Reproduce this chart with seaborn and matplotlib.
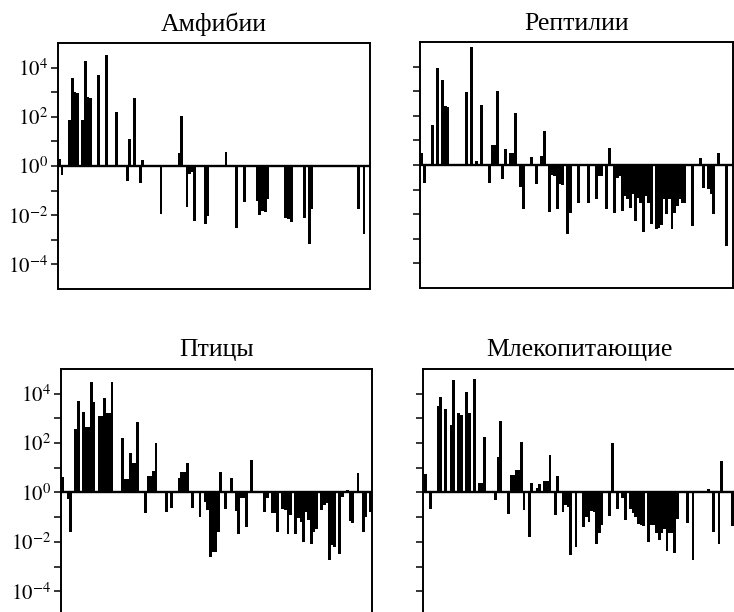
import matplotlib
matplotlib.use("Agg")
import matplotlib.pyplot as plt
from matplotlib.ticker import FixedLocator, FuncFormatter
import pandas as pd
import seaborn as sns

# число позиций по оси X в каждой панели
N_SLOTS = 120

# показатель степени (log10 отношения) для каждой позиции
amph_slot = [0, 1, 4, 5, 6, 7, 9, 10, 11, 12, 15, 18, 22, 26, 27, 29, 31, 32, 39,
             46, 47, 49, 50, 51, 52, 56, 57, 64, 68, 71, 76, 77, 78, 79, 80,
             87, 88, 89, 94, 96, 97, 115, 117]
amph_exp = [0.3, -0.32, 1.86, 3.58, 3.0, 2.96, 1.86, 4.27, 2.8, 2.76, 3.7, 4.52, 2.18,
            -0.56, 1.1, 2.75, -0.64, 0.26, -1.92, 0.52, 2.04, -1.62, -0.3, -0.2, -2.2,
            -2.32, -1.98, 0.55, -2.5, -1.44, -1.37, -1.97, -1.77, -1.84, -1.3,
            -2.08, -2.1, -2.25, -2.08, -3.14, -1.72, -1.69, -2.72]

rept_slot = [0, 1, 4, 6, 8, 9, 10, 17, 19, 21, 23, 26, 27, 28, 29, 31, 32, 34, 35, 36,
             38, 39, 42, 44, 46, 47, 49, 50, 51, 52, 53, 54, 56, 57, 60, 64, 67, 68, 69,
             71, 72, 74, 75, 76, 77, 78, 79, 80, 81, 82, 83, 84, 85, 86, 87, 88,
             90, 91, 92, 93, 94, 95, 96, 97, 98, 99, 100, 101,
             104, 107, 108, 110, 111, 112, 114, 117]
rept_exp = [0.47, -0.68, 1.62, 3.95, 3.45, 2.4, 2.36, 2.95, 4.8, 0.17, 2.43,
            -0.68, 0.81, 0.8, 3.0, -0.51, 0.65, 0.47, 0.47, 2.1, -0.85, -1.73,
            0.34, -0.72, 0.38, 1.38, -1.86, -0.36, -0.4, -1.76, -0.74, -0.78,
            -2.77, -1.89, -1.49, -1.49, -1.35, -0.4, -0.4, -1.73, 0.68,
            -1.92, -0.47, -0.4, -1.82, -1.22, -1.35, -1.69, -1.15, -2.23, -1.28,
            -1.49, -2.7, -1.2, -1.5, -2.36,
            -2.57, -2.5, -2.4, -1.35, -1.96, -1.35, -2.57, -1.89, -1.62, -1.35, -1.51, -1.49,
            -2.43, 0.27, -0.88, -0.95, -1.15, -1.96, 0.47, -3.24]

bird_slot = [0, 2, 3, 5, 6, 8, 9, 10, 11, 12, 14, 15, 16, 17, 18, 19,
             23, 24, 25, 26, 27, 28, 29, 32, 33, 34, 35, 36, 40, 42, 45, 46, 47, 48,
             50, 53, 55, 56, 57, 58, 59, 60, 61, 63, 65, 67, 68, 69, 70, 71, 73,
             78, 79, 81, 82, 83, 85, 86, 87, 88, 90, 91, 92, 93, 94, 95, 96, 97, 98,
             100, 101, 102, 103, 104, 105, 107, 108, 110, 111, 112, 114, 116, 117, 119]
bird_exp = [0.61, -0.22, -1.55, 2.57, 3.72, 3.24, 2.66, 2.64, 4.46, 3.65,
            3.1, 3.1, 3.82, 3.2, 3.2, 4.46,
            2.2, 0.54, 0.54, 1.58, 1.18, 1.18, 2.86, -0.81, 0.68, 0.68, 0.88, 2.0,
            -0.74, -0.58, 0.58, 0.81, 0.81, 1.18,
            -0.58, -0.95, -0.34, -0.68, -2.57, -2.36, -2.38, -1.55, 0.81,
            -0.61, 0.58, -0.7, -1.66, -0.2, -0.2, -1.35, 1.31,
            -0.74, -0.2, -0.81, -0.8, -1.55, -0.61, -0.68, -1.66, -0.88,
            -1.66, -1.01, -1.15, -1.96, -0.74, -1.08, -2.03, -1.55, -1.42,
            -0.68, -0.47, -0.4, -2.7, -2.1, -2.16, -2.47, -0.14, 0.11, -1.12, -1.18, 0.77,
            -1.55, -0.95, -0.74]

mamm_slot = [0, 2, 5, 6, 8, 10, 11, 13, 14, 16, 17, 19, 21, 22, 23, 27, 28, 29,
             32, 33, 34, 35, 36, 37, 38, 40, 41, 43, 44, 46, 47, 48,
             50, 51, 53, 54, 55, 56, 58, 61, 62, 63, 64, 65, 66, 67, 68,
             71, 72, 74, 76, 77, 79, 80, 81, 82, 83, 84,
             86, 87, 88, 89, 90, 91, 92, 93, 94, 95, 96, 97,
             101, 103, 109, 111, 113, 114, 118]
mamm_exp = [0.74, -0.64, 3.51, 3.88, 3.38, 2.74, 4.55, 3.2, 3.14, 4.05, 3.2, 4.6,
            0.4, 0.4, 2.23, -0.27, 1.42, 2.88,
            -0.85, 0.7, 0.7, 0.9, 0.9, 2.03, -0.68, -1.76, 0.4, 0.2, 0.36, 0.47, 0.47, 1.53,
            -0.88, 0.68, -0.74, -0.47, -0.54, -2.5, -2.16,
            -1.35, -0.95, -1.15, -0.72, -0.74, -2.03, -1.62, -1.28,
            -0.9, 1.99, -0.64, -0.2, -1.08, -0.61, -0.81, -0.95, -1.22, -1.28, -1.31,
            -1.96, -1.28, -1.28, -1.62, -1.89, -1.62, -1.42, -2.34, -1.62, -1.58, -2.43, -1.04,
            -1.18, -2.7, 0.16, -1.55, -2.03, 1.28, -1.31]

titles = ["Амфибии", "Рептилии", "Птицы", "Млекопитающие"]

sns.set_style("ticks")
plt.rcParams["font.family"] = ["Liberation Serif", "DejaVu Serif"]
plt.rcParams["mathtext.fontset"] = "stix"
plt.rcParams["text.color"] = "black"
plt.rcParams["ytick.color"] = "black"
plt.rcParams["axes.edgecolor"] = "black"

# расположение панелей на рисунке (доли рисунка)
rects = [
    [0.0785, 0.5278, 0.4256, 0.4019],
    [0.5722, 0.5294, 0.4260, 0.4019],
    [0.0831, -0.0065, 0.4233, 0.4036],
    [0.5767, -0.0065, 0.4253, 0.4036],
]
data = [(amph_slot, amph_exp), (rept_slot, rept_exp),
        (bird_slot, bird_exp), (mamm_slot, mamm_exp)]

fig = plt.figure(figsize=(7.34, 6.12), dpi=100)

for i, (title, rect, (slots, exps)) in enumerate(zip(titles, rects, data)):
    ax = fig.add_axes(rect)
    # все позиции, пустые = 10^0
    full = pd.Series(exps, index=slots).reindex(range(N_SLOTS), fill_value=0.0)
    df = pd.DataFrame({"slot": full.index, "exp": full.values})
    sns.barplot(data=df, x="slot", y="exp", color="black",
                saturation=1, width=0.72, errorbar=None, ax=ax,
                edgecolor="black", linewidth=0.4, antialiased=False)
    ax.axhline(0, color="black", lw=1.7, zorder=3)
    ax.set_xlim(-0.5, N_SLOTS - 0.5)
    ax.set_ylim(-5, 5)
    ax.set_xticks([])
    ax.set_xlabel("")
    ax.set_ylabel("")

    show = i % 2 == 0
    ax.yaxis.set_major_locator(FixedLocator(range(-4, 5)))
    ax.yaxis.set_major_formatter(FuncFormatter(
        lambda v, p, show=show: f"$10^{{{int(round(v))}}}$"
        if show and int(round(v)) % 2 == 0 else ""))
    ax.tick_params(axis="y", direction="out", length=5, width=1.1,
                   labelsize=15, pad=2, left=True)
    for s in ax.spines.values():
        s.set_visible(True)
        s.set_linewidth(1.4)
        s.set_color("black")
    ax.set_title(title, fontsize=18.5, pad=9)

plt.savefig("out.png", dpi=100)
plt.close()
